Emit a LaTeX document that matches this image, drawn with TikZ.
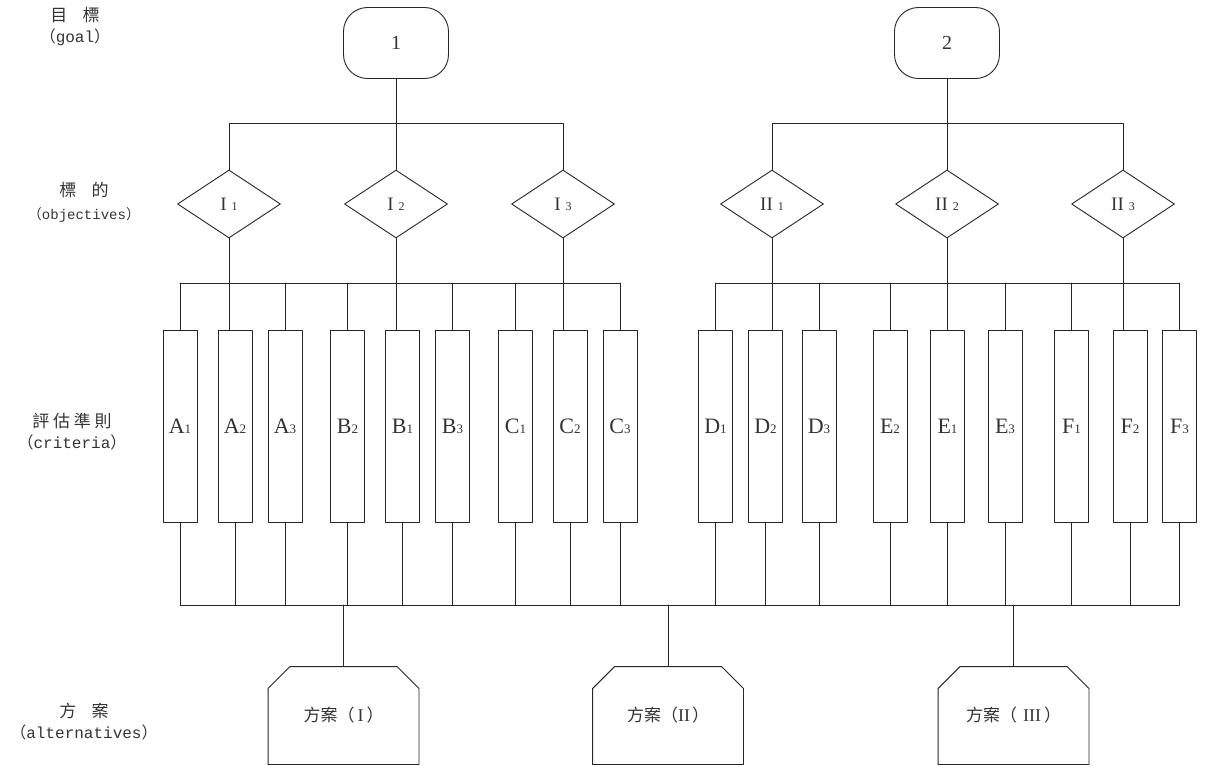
\documentclass[tikz,border=0pt]{standalone}
\usepackage{fontspec}
\setmainfont{Liberation Serif}
\newfontfamily\cjk{Noto Sans CJK TC}
\newfontfamily\lblfont{Liberation Mono}
\usetikzlibrary{shapes.geometric}

\begin{document}
\begin{tikzpicture}[
  x=1pt,
  y=-1pt,
  line cap=round,
  line join=round,
  line width=0.9pt,
  black!85,
  every node/.style={text=black!80},
  goalbox/.style={draw, rounded corners=24pt, minimum width=105pt,
    minimum height=71pt, font=\fontsize{20}{20}\selectfont},
  objbox/.style={draw, diamond, minimum width=103pt, minimum height=68pt,
    inner sep=0pt, font=\fontsize{19}{19}\selectfont},
  critbox/.style={draw, rectangle, minimum width=34pt, minimum height=192pt,
    inner sep=0pt, font=\fontsize{22}{22}\selectfont},
  altbox/.style={minimum width=150pt, minimum height=97pt, inner sep=0pt,
    font=\cjk\fontsize{17}{17}\selectfont},
  lvl/.style={align=center, font=\lblfont\fontsize{16}{21}\selectfont}
]
\useasboundingbox (0,0) rectangle (1209,765);

% Level labels on the left
\node[lvl] (lgoal) at (75,27)
  {{\cjk\fontsize{17}{17}\selectfont 目\hspace{0.9em}標}\\{\cjk （}goal{\cjk ）}};
\node[lvl, font=\lblfont\fontsize{14}{23}\selectfont] (lobj) at (84,202)
  {{\cjk\fontsize{17}{17}\selectfont 標\hspace{0.9em}的}\\{\cjk （}objectives{\cjk ）}};
\node[lvl] (lcrit) at (72,432)
  {{\cjk\fontsize{17}{17}\selectfont\addfontfeature{LetterSpace=22}評估準則}\\{\cjk （}criteria{\cjk ）}};
\node[lvl] (lalt) at (84,722)
  {{\cjk\fontsize{17}{17}\selectfont 方\hspace{0.9em}案}\\{\cjk （}alternatives{\cjk ）}};

% Helper rows for the bus lines
\coordinate (goalbar) at (0,123);
\coordinate (critbar) at (0,283);
\coordinate (altbar) at (0,605);

% Goals
\node[goalbox] (g1) at (396,43) {1};
\node[goalbox] (g2) at (947,43) {2};

% Objectives
\foreach \n/\r/\d/\x in {I1/I/1/229, I2/I/2/396, I3/I/3/563,
                          II1/II/1/772, II2/II/2/947, II3/II/3/1123}{
  \node[objbox] (\n) at (\x,204)
    {\r\hspace{5pt}{\fontsize{12}{12}\selectfont\d}};
}

% Criteria
\foreach \l/\d/\x in {A/1/180, A/2/235, A/3/285,
                      B/2/347.5, B/1/402.5, B/3/452.5,
                      C/1/515.5, C/2/570, C/3/620,
                      D/1/715.5, D/2/765.5, D/3/819,
                      E/2/890, E/1/947.5, E/3/1005,
                      F/1/1071.5, F/2/1130, F/3/1179.5}{
  \node[critbox] (\l\d) at (\x,426) {\l{\fontsize{13}{13}\selectfont\d}};
}

% Alternatives
\node[altbox] (alt1) at (343.5,715.5)
  {方案（\hspace{3pt}{\rmfamily\fontsize{18}{18}\selectfont I}\hspace{3pt}）};
\node[altbox] (alt2) at (668,715.5)
  {方案（{\rmfamily\fontsize{18}{18}\selectfont II}\hspace{2pt}）};
\node[altbox] (alt3) at (1013.5,715.5)
  {方案（\hspace{6pt}{\rmfamily\fontsize{18}{18}\selectfont III}\hspace{3pt}）};
\foreach \a in {alt1, alt2, alt3}{
  \draw (\a.south west) -- ([yshift=-22pt]\a.north west)
    -- ([xshift=22pt]\a.north west) -- ([xshift=-22pt]\a.north east)
    -- ([yshift=-22pt]\a.north east) -- (\a.south east) -- cycle;
}

% Goals to objectives
\draw (g1) -- (I2);
\draw (I1.north) |- (I3.north |- goalbar) -- (I3.north);
\draw (g2) -- (II2);
\draw (II1.north) |- (II3.north |- goalbar) -- (II3.north);

% Objectives to criteria
\draw (A1.north |- critbar) -- (C3.north |- critbar);
\draw (D1.north |- critbar) -- (F3.north |- critbar);
\foreach \o/\c in {I1/A2, I2/B1, I3/C2, II1/D2, II2/E1, II3/F2}{
  \draw (\o.south) -- (\o.south |- \c.north);
}
\foreach \c in {A1, A3, B2, B3, C1, C3, D1, D3, E2, E3, F1, F3}{
  \draw (\c.north) -- (\c.north |- critbar);
}

% Criteria to alternatives
\draw (A1.south |- altbar) -- (F3.south |- altbar);
\foreach \c in {A1, A2, A3, B2, B1, B3, C1, C2, C3,
                D1, D2, D3, E2, E1, E3, F1, F2, F3}{
  \draw (\c.south) -- (\c.south |- altbar);
}
\foreach \a in {alt1, alt2, alt3}{
  \draw (\a.north) -- (\a.north |- altbar);
}

\end{tikzpicture}
\end{document}
